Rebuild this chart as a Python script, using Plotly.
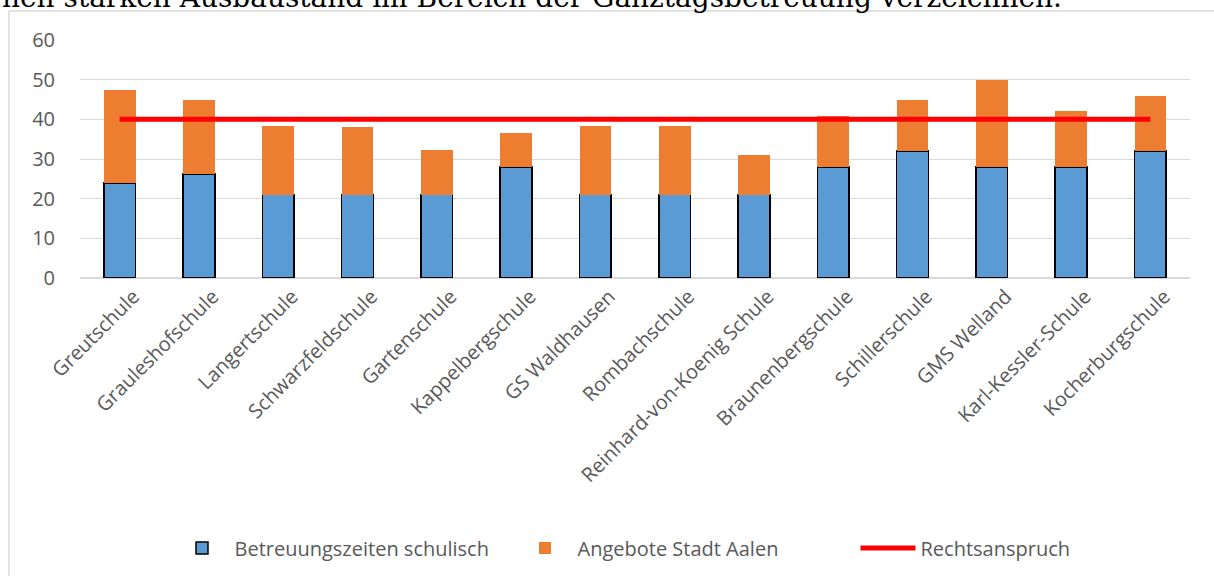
import plotly.graph_objects as go

schools = ["Greutschule", "Grauleshofschule", "Langertschule", "Schwarzfeldschule",
           "Gartenschule", "Kappelbergschule", "GS Waldhausen", "Rombachschule",
           "Reinhard-von-Koenig Schule", "Braunenbergschule", "Schillerschule",
           "GMS Welland", "Karl-Kessler-Schule", "Kocherburgschule"]
schulisch = [24, 26.2, 21, 21, 21, 28, 21, 21, 21, 28, 32, 28, 28, 32]
stadt_aalen = [23.4, 18.8, 17.4, 17, 11.2, 8.5, 17.4, 17.4, 10, 12.9, 13, 22, 14.2, 13.8]
rechtsanspruch = [40] * 14
y_ticks = [0, 10, 20, 30, 40, 50, 60]
top_text = "hen starken Ausbaustand im Bereich der Ganztagsbetreuung verzeichnen."

W, H = 1214, 576
L, R, T, B = 80, 24, 40, 298
PW, PH = W - L - R, H - T - B

def px(x):
    return (x - L) / PW

def py(y):
    return (H - B - y) / PH

FONT = "Open Sans"
GREY = "#595959"

fig = go.Figure()
fig.add_trace(go.Bar(name="Betreuungszeiten schulisch", x=schools, y=schulisch,
                     marker=dict(color="#5B9BD5", line=dict(color="#000000", width=1.5))))
fig.add_trace(go.Bar(name="Angebote Stadt Aalen", x=schools, y=stadt_aalen,
                     marker=dict(color="#ED7D31", line=dict(width=0))))
fig.add_trace(go.Scatter(name="Rechtsanspruch", x=schools, y=rechtsanspruch, mode="lines",
                         line=dict(color="#FF0000", width=5)))

fig.update_layout(
    width=W, height=H,
    margin=dict(l=L, r=R, t=T, b=B, autoexpand=False),
    paper_bgcolor="white", plot_bgcolor="white",
    barmode="stack", bargap=0.6,
    font=dict(family=FONT, color=GREY, size=20),
    showlegend=True,
    legend=dict(orientation="h", x=px(684), xanchor="center", y=py(548), yanchor="middle",
                font=dict(family=FONT, size=20, color=GREY), itemwidth=55,
                entrywidth=273, entrywidthmode="pixels",
                traceorder="normal", bgcolor="rgba(0,0,0,0)"),
    xaxis=dict(tickangle=-45, tickfont=dict(family=FONT, size=20, color=GREY),
               ticklabelshift=14, ticklabelstandoff=2,
               showgrid=False, showline=False, ticks="", automargin=False),
    yaxis=dict(range=[0, 60], tickvals=y_ticks, showgrid=True, gridcolor="#D9D9D9", gridwidth=1,
               zeroline=True, zerolinecolor="#D9D9D9", zerolinewidth=1.5,
               ticks="outside", ticklen=20, tickcolor="rgba(0,0,0,0)",
               tickfont=dict(family=FONT, size=20, color=GREY), automargin=False),
)

# chart area border (partially visible)
fig.add_shape(type="line", xref="paper", yref="paper", x0=px(9), x1=px(W + 10), y0=py(11), y1=py(11),
              line=dict(color="#D9D9D9", width=1.5))
fig.add_shape(type="line", xref="paper", yref="paper", x0=px(9), x1=px(9), y0=py(11), y1=py(H + 10),
              line=dict(color="#D9D9D9", width=1.5))

# cut-off document text above the chart
fig.add_annotation(text=top_text, xref="paper", yref="paper", x=px(0), y=py(16),
                   xanchor="left", yanchor="bottom", showarrow=False,
                   font=dict(family="DejaVu Serif", size=28, color="#000000"))

fig.write_html("out.html", config={"displayModeBar": False},
               post_script="document.body.style.margin='0';")
